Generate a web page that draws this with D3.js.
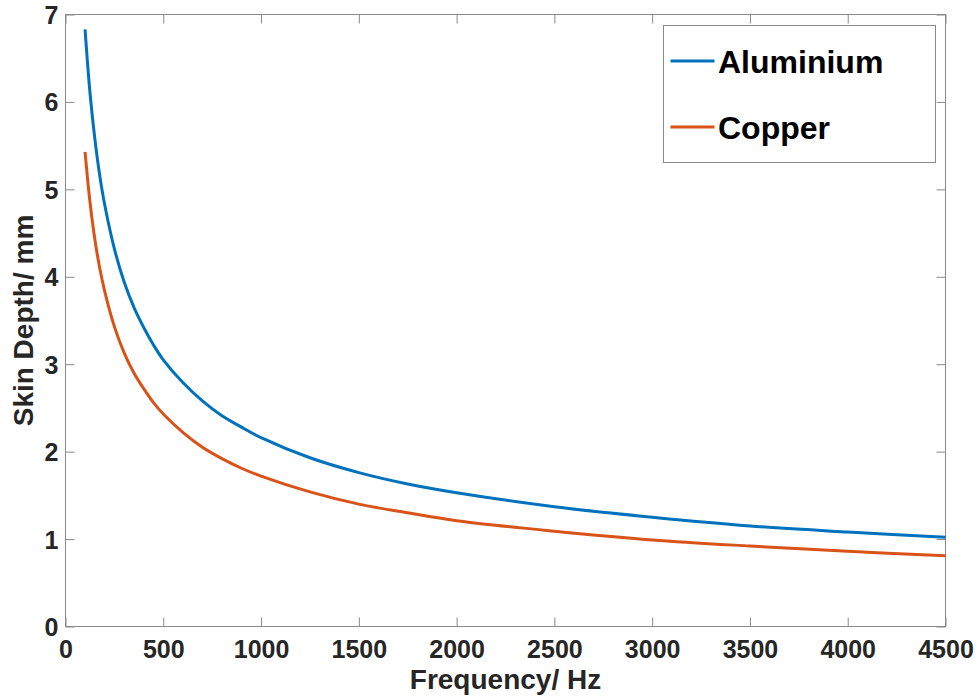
<!DOCTYPE html>
<html>
<head>
<meta charset="utf-8">
<script src="https://cdn.jsdelivr.net/npm/d3@7/dist/d3.min.js"></script>
<style>
  html, body { margin: 0; padding: 0; background: #fff; }
  svg { display: block; font-family: "Liberation Sans", Arial, Helvetica, sans-serif; }
</style>
</head>
<body>
<svg id="chart" width="980" height="697"></svg>
<script>
// Skin depth (mm) of two conductors versus frequency (Hz)
const frequency = [100, 125, 150, 175, 200, 250, 300, 350, 400, 450, 500, 600, 700, 800, 900,
                   1000, 1250, 1500, 1750, 2000, 2500, 3000, 3500, 4000, 4500];
const aluminium = [6.83, 6.11, 5.58, 5.16, 4.83, 4.32, 3.94, 3.65, 3.42, 3.22, 3.05, 2.79, 2.58, 2.41, 2.28,
                   2.16, 1.93, 1.76, 1.63, 1.53, 1.37, 1.25, 1.15, 1.08, 1.02];
const copper    = [5.43, 4.86, 4.43, 4.10, 3.84, 3.43, 3.13, 2.90, 2.72, 2.56, 2.43, 2.22, 2.05, 1.92, 1.81,
                   1.72, 1.54, 1.40, 1.30, 1.21, 1.09, 0.99, 0.92, 0.86, 0.81];
const seriesNames = ["Aluminium", "Copper"];
const seriesColors = ["#0072BD", "#D95319"];
const xTicks = [0, 500, 1000, 1500, 2000, 2500, 3000, 3500, 4000, 4500];
const yTicks = [0, 1, 2, 3, 4, 5, 6, 7];

const svg = d3.select("#chart");
const plotL = 65.5, plotR = 945.5, plotT = 14.5, plotB = 626.5;
const axisColor = "#8a8a8a";
const textColor = "#262626";

const x = d3.scaleLinear().domain([0, 4500]).range([plotL, plotR]);
const y = d3.scaleLinear().domain([0, 7]).range([plotB, plotT]);

// Inward tick marks on all four sides
const tickLen = 9;
function styleAxis(g) {
  g.select(".domain").remove();
  g.selectAll(".tick line").attr("stroke", axisColor).attr("stroke-width", 1);
}
svg.append("g").attr("transform", `translate(0,${plotB})`)
  .call(d3.axisBottom(x).tickValues(xTicks).tickSizeInner(-tickLen).tickSizeOuter(0).tickFormat(d3.format("d")).tickPadding(0))
  .call(styleAxis)
  .call(g => g.selectAll(".tick text")
    .attr("y", 31.5).attr("dy", null)
    .attr("fill", textColor).attr("font-size", 25).attr("font-weight", "bold")
    .attr("font-family", "'Liberation Sans', Arial, sans-serif"));
svg.append("g").attr("transform", `translate(0,${plotT})`)
  .call(d3.axisTop(x).tickValues(xTicks).tickSizeInner(-tickLen).tickSizeOuter(0).tickFormat(""))
  .call(styleAxis);
svg.append("g").attr("transform", `translate(${plotL},0)`)
  .call(d3.axisLeft(y).tickValues(yTicks).tickSizeInner(-tickLen).tickSizeOuter(0).tickFormat(d3.format("d")).tickPadding(0))
  .call(styleAxis)
  .call(g => g.selectAll(".tick text")
    .attr("x", -7).attr("dy", "0.36em")
    .attr("fill", textColor).attr("font-size", 25).attr("font-weight", "bold")
    .attr("font-family", "'Liberation Sans', Arial, sans-serif"));
svg.append("g").attr("transform", `translate(${plotR},0)`)
  .call(d3.axisRight(y).tickValues(yTicks).tickSizeInner(-tickLen).tickSizeOuter(0).tickFormat(""))
  .call(styleAxis);

// Axes box
svg.append("rect")
  .attr("x", plotL).attr("y", plotT)
  .attr("width", plotR - plotL).attr("height", plotB - plotT)
  .attr("fill", "none").attr("stroke", axisColor).attr("stroke-width", 1);

// Curves
const line = d3.line()
  .x(d => x(d[0]))
  .y(d => y(d[1]))
  .curve(d3.curveCatmullRom.alpha(0.5));
[aluminium, copper].forEach((vals, i) => {
  svg.append("path")
    .datum(frequency.map((f, k) => [f, vals[k]]))
    .attr("fill", "none")
    .attr("stroke", seriesColors[i])
    .attr("stroke-width", 3)
    .attr("d", line);
});

// Axis titles
svg.append("text")
  .attr("x", (plotL + plotR) / 2).attr("y", 689)
  .attr("text-anchor", "middle")
  .attr("font-size", 28).attr("font-weight", "bold").attr("fill", textColor)
  .text("Frequency/ Hz");
svg.append("text")
  .attr("transform", `translate(33,${(plotT + plotB) / 2}) rotate(-90)`)
  .attr("text-anchor", "middle")
  .attr("font-size", 28).attr("font-weight", "bold").attr("fill", textColor)
  .text("Skin Depth/ mm");

// Legend
const legend = svg.append("g");
legend.append("rect")
  .attr("x", 663.5).attr("y", 25.5).attr("width", 272).attr("height", 137)
  .attr("fill", "#fff").attr("stroke", axisColor).attr("stroke-width", 1);
const legendRows = [61, 127];
seriesNames.forEach((name, i) => {
  legend.append("line")
    .attr("x1", 670.5).attr("x2", 714.5)
    .attr("y1", legendRows[i]).attr("y2", legendRows[i])
    .attr("stroke", seriesColors[i]).attr("stroke-width", 3);
  legend.append("text")
    .attr("x", 718).attr("y", legendRows[i] + 12)
    .attr("font-size", 32).attr("font-weight", "bold").attr("fill", "#000")
    .text(name);
});
</script>
</body>
</html>
